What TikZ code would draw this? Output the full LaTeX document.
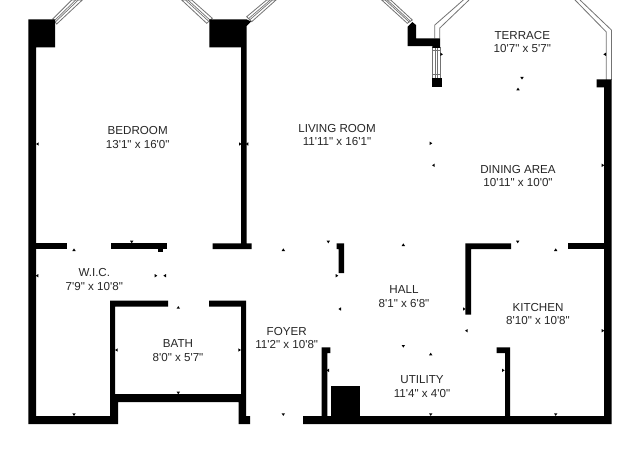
\documentclass[tikz,border=0pt]{standalone}
\usepackage{fontspec}
\newfontfamily\labfont{Liberation Sans}
\usetikzlibrary{calc}
\tikzset{
  wall/.style={fill=black,draw=none},
  glass/.style={draw=black!55,line width=0.8pt,fill=white,line join=miter},
  pane/.style={draw=black!55,line width=0.7pt},
  tickmark/.style={fill=black,draw=none},
  room/.style={font=\labfont\fontsize{11.6}{13.6}\selectfont,align=center,text=black!85,inner sep=0pt}
}
\newcommand\tickL[2]{\fill[tickmark] (#1,#2) +(-1.6,0) -- +(1,-1.7) -- +(1,1.7) -- cycle;}
\newcommand\tickR[2]{\fill[tickmark] (#1,#2) +(1.6,0) -- +(-1,-1.7) -- +(-1,1.7) -- cycle;}
\newcommand\tickU[2]{\fill[tickmark] (#1,#2) +(0,-1.6) -- +(-1.7,1) -- +(1.7,1) -- cycle;}
\newcommand\tickD[2]{\fill[tickmark] (#1,#2) +(0,1.6) -- +(-1.7,-1) -- +(1.7,-1) -- cycle;}
\newcommand\winstrip[4]{%
  \draw[glass] #1 -- #2 -- #3 -- #4 -- cycle;
  \draw[pane] ($#1!.38!#2$) -- ($#4!.38!#3$);
  \draw[pane] ($#1!.62!#2$) -- ($#4!.62!#3$);
}
\begin{document}
\begin{tikzpicture}[x=1pt,y=-1pt]
\useasboundingbox (0,0) rectangle (640,460);
\fill[white] (0,0) rectangle (640,460);

% windows and railings
\winstrip{(52.7,19)}{(56.7,24)}{(82.3,0)}{(71.7,0)}
\winstrip{(212.3,18.3)}{(206.7,23.3)}{(181.7,0)}{(191.7,0)}
\winstrip{(246.7,16.7)}{(251.7,21.7)}{(276,0)}{(266.7,0)}
\winstrip{(412.3,20)}{(407.3,23.3)}{(381.7,0)}{(390.7,0)}
\draw[glass,fill=none] (434.8,38.5) -- (434.8,25) -- (463.3,0);
\draw[glass,fill=none] (439.8,38.5) -- (439.8,28) -- (469,0);
\draw[glass,fill=none] (611.4,80) -- (611.4,30) -- (580,0);
\draw[glass,fill=none] (606.3,80) -- (606.3,32) -- (575,0);
\draw[glass] (432.5,47) rectangle (440,78.5);
\draw[pane] (435.5,47) -- (435.5,78.5);
\draw[pane] (437.5,47) -- (437.5,78.5);
\draw[pane] (432.5,50) -- (440,50);
\draw[pane] (432.5,74) -- (440,74);

% walls
\fill[wall] (28.3,19.3) -- (55,19.3) -- (55,47.4) -- (36,47.4) -- (36,416) -- (110,416)
  -- (110,300.7) -- (168,300.7) -- (168,306.5) -- (115,306.5) -- (115,394) -- (241,394)
  -- (241,306.5) -- (209,306.5) -- (209,300.7) -- (246.2,300.7) -- (246.2,416) -- (250,416)
  -- (250,424) -- (238.5,424) -- (238.5,402) -- (118,402) -- (118,424) -- (28.3,424) -- cycle;
\fill[wall] (209.3,19.3) -- (246.5,19.3) -- (251,21.5) -- (246.5,26) -- (246.5,243.3) -- (251.7,243.3)
  -- (251.7,249) -- (212.7,249) -- (212.7,243.3) -- (241,243.3) -- (241,47.4) -- (209.3,47.4) -- cycle;
\fill[wall] (36,243.3) rectangle (66.7,249);
\fill[wall] (111,243.3) rectangle (167,249);
\fill[wall] (158,249) rectangle (163,252);
\fill[wall] (336.7,243.3) -- (344,243.3) -- (344,273) -- (338.5,273) -- (338.5,249) -- (336.7,249) -- cycle;
\fill[wall] (511,243.3) -- (465.3,243.3) -- (465.3,314.5) -- (471,314.5) -- (471,249) -- (511,249) -- cycle;
\fill[wall] (567.7,243.3) rectangle (604.5,249);
\fill[wall] (596.7,79.5) -- (611.7,79.5) -- (611.7,424) -- (303,424) -- (303,416) -- (321.7,416)
  -- (321.7,347.3) -- (330.3,347.3) -- (330.3,353) -- (327.3,353) -- (327.3,416) -- (505,416)
  -- (505,353) -- (496.7,353) -- (496.7,347.3) -- (510,347.3) -- (510,416) -- (604,416)
  -- (604,87.5) -- (596.7,87.5) -- cycle;
\fill[wall] (331.3,385.7) rectangle (360.3,416.5);
\fill[wall] (407.7,26.7) -- (412.3,22) -- (416,25) -- (416,38.3) -- (440,38.3) -- (440,48)
  -- (432.3,48) -- (432.3,46.2) -- (407.7,46.2) -- cycle;
\fill[wall] (432.3,78.3) rectangle (442.3,87.3);

% dimension ticks
\tickL{37.7}{144} \tickR{240}{144} \tickL{247.3}{144}
\tickR{441.3}{54.3} \tickL{605}{54.3} \tickD{522}{78} \tickU{518}{89.3}
\tickR{430.7}{143.3} \tickL{433.7}{165.3} \tickR{602.7}{165.3}
\tickU{74}{250} \tickD{131.7}{241.7} \tickU{283.3}{250}
\tickL{37.3}{275.7} \tickR{155.7}{275.7} \tickL{165}{275.7}
\tickU{178.3}{307.7} \tickL{116.7}{350} \tickR{239.3}{350} \tickD{178.3}{392.7}
\tickD{74}{414.3} \tickD{283.3}{414.3}
\tickD{328.3}{241.7} \tickU{403.3}{245} \tickR{336.7}{275.7} \tickL{340}{309}
\tickR{464}{309} \tickL{466.7}{330.7} \tickR{602.7}{330.7}
\tickD{517.7}{241.7} \tickU{555.7}{250}
\tickD{403.3}{346} \tickU{430.7}{354.3} \tickL{328}{370.3} \tickR{503}{370.3}
\tickD{430.7}{414.3} \tickD{555.7}{414.3}

% room labels
\node[room] (bedroom) at (137.7,137.3) {BEDROOM\\13'1" x 16'0"};
\node[room] (living) at (337,135) {LIVING ROOM\\11'11" x 16'1"};
\node[room] (terrace) at (522.3,42) {TERRACE\\10'7" x 5'7"};
\node[room] (dining) at (518,176.2) {DINING AREA\\10'11" x 10'0"};
\node[room] (wic) at (94.3,279.8) {W.I.C.\\7'9" x 10'8"};
\node[room] (bath) at (178,350.5) {BATH\\8'0" x 5'7"};
\node[room] (foyer) at (286.7,338) {FOYER\\11'2" x 10'8"};
\node[room] (hall) at (404,296.5) {HALL\\8'1" x 6'8"};
\node[room] (kitchen) at (538,314.2) {KITCHEN\\8'10" x 10'8"};
\node[room] (utility) at (422,386.7) {UTILITY\\11'4" x 4'0"};
\end{tikzpicture}
\end{document}
